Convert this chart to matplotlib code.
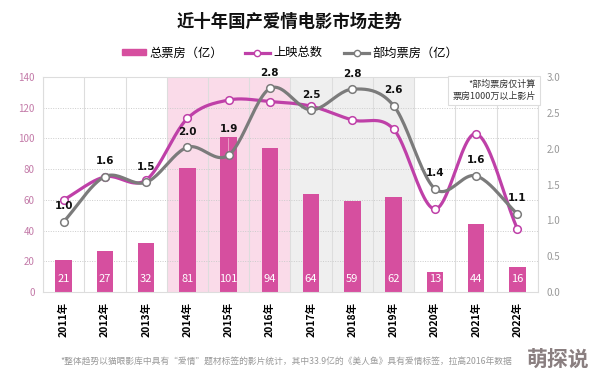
import numpy as np
import matplotlib
matplotlib.use("Agg")
import matplotlib.pyplot as plt
from matplotlib.patches import Patch
from matplotlib.lines import Line2D

plt.rcParams['font.family'] = ['Noto Sans CJK SC', 'DejaVu Sans']

# data
years = ['2011年', '2012年', '2013年', '2014年', '2015年', '2016年',
         '2017年', '2018年', '2019年', '2020年', '2021年', '2022年']
box_office = [21, 27, 32, 81, 101, 94, 64, 59, 62, 13, 44, 16]          # 总票房（亿）
releases = [60, 75, 73, 113, 125, 124, 121, 112, 106, 54, 103, 41]       # 上映总数
avg_box = [0.98, 1.61, 1.53, 2.02, 1.91, 2.84, 2.54, 2.83, 2.60, 1.44, 1.62, 1.09]  # 部均票房（亿）

bar_c = '#d64f9f'
line_c = '#bf40a8'
gray_c = '#7b7b7b'


def smooth(x, y, n=24):
    # catmull-rom curve through the points, only for drawing
    pts = np.column_stack([x, y]).astype(float)
    p = np.vstack([2 * pts[0] - pts[1], pts, 2 * pts[-1] - pts[-2]])
    t = np.linspace(0, 1, n)[:, None]
    segs = []
    for i in range(1, len(p) - 2):
        p0, p1, p2, p3 = p[i - 1], p[i], p[i + 1], p[i + 2]
        seg = 0.5 * (2 * p1 + (-p0 + p2) * t + (2 * p0 - 5 * p1 + 4 * p2 - p3) * t ** 2
                     + (-p0 + 3 * p1 - 3 * p2 + p3) * t ** 3)
        segs.append(seg)
    s = np.vstack(segs)
    return s[:, 0], s[:, 1]


fig = plt.figure(figsize=(5.94, 3.78), dpi=100)
ax = fig.add_axes([0.0724, 0.2275, 0.8333, 0.5688])
x = np.arange(len(years))

# shaded periods
ax.axvspan(2.5, 5.5, color='#fadbe9', zorder=0, lw=0)
ax.axvspan(5.5, 8.5, color='#efefef', zorder=0, lw=0)

# grid
for v in np.arange(-0.5, len(years), 1.0):
    ax.axvline(v, color='#dddddd', lw=0.8, zorder=0.5)
for h in range(20, 141, 20):
    ax.axhline(h, color='#cccccc', lw=0.7, ls=(0, (1, 1.5)), zorder=0.5)

ax.bar(x, box_office, width=0.4, color=bar_c, zorder=2)
for xi, v in zip(x, box_office):
    ax.text(xi, 8.5, str(v), ha='center', va='center', color='white', fontsize=8, zorder=3)

sx, sy = smooth(x, releases)
ax.plot(sx, sy, color=line_c, lw=2.3, zorder=4)
ax.plot(x, releases, 'o', ms=5.5, mfc='white', mec=line_c, mew=1.1, zorder=5)

ax.set_xlim(-0.5, len(years) - 0.5)
ax.set_ylim(0, 140)
ax.set_yticks(range(0, 141, 20))
ax.set_xticks(x)
ax.set_xticklabels(years, rotation=90, fontsize=7.5, fontweight='bold')
ax.tick_params(axis='x', length=0, pad=7)
ax.tick_params(axis='y', length=0, labelsize=7, labelcolor='#c37aa8', pad=6)
for s in ax.spines.values():
    s.set_color('#dddddd')
    s.set_linewidth(0.8)

ax2 = ax.twinx()
ax2.set_ylim(0, 3.0)
ax2.set_yticks(np.arange(0, 3.01, 0.5))
ax2.set_yticklabels([f'{v:.1f}' for v in np.arange(0, 3.01, 0.5)])
ax2.tick_params(axis='y', length=0, labelsize=7, labelcolor='#999999', pad=6)
for s in ax2.spines.values():
    s.set_visible(False)

gx, gy = smooth(x, avg_box)
ax2.plot(gx, gy, color=gray_c, lw=2.3, zorder=4)
ax2.plot(x, avg_box, 'o', ms=5.5, mfc='white', mec=gray_c, mew=1.1, zorder=5)

for xi, v in zip(x, avg_box):
    dy = 7.5
    if xi == 4:
        dy = 15
        ax2.annotate('', xy=(xi, v), xytext=(0, 14), textcoords='offset points',
                     arrowprops=dict(arrowstyle='-', color='#f0b0d0', lw=0.6))
    ax2.annotate(f'{v:.1f}', (xi, v), xytext=(0, dy), textcoords='offset points',
                 ha='center', va='bottom', fontsize=7.5, fontweight='bold', color='#111111',
                 family='DejaVu Sans', zorder=6)

ax2.text(0.995, 0.985, '*部均票房仅计算\n票房1000万以上影片', transform=ax2.transAxes,
         ha='right', va='top', fontsize=6.5, color='#333333', linespacing=1.4,
         bbox=dict(boxstyle='square,pad=0.45', fc='white', ec='#dddddd', lw=0.8), zorder=7)

fig.text(0.488, 0.942, '近十年国产爱情电影市场走势', ha='center', va='center',
         fontsize=12.5, fontweight='bold', color='#111111')

handles = [Patch(color=bar_c),
           Line2D([], [], color=line_c, lw=2.3, marker='o', ms=4.5, mfc='white', mec=line_c),
           Line2D([], [], color=gray_c, lw=2.3, marker='o', ms=4.5, mfc='white', mec=gray_c)]
fig.legend(handles, ['总票房（亿）', '上映总数', '部均票房（亿）'], loc='center',
           bbox_to_anchor=(0.488, 0.86), ncol=3, frameon=False, fontsize=8.8,
           handlelength=2.0, handleheight=0.45, columnspacing=1.8, handletextpad=0.3)

fig.text(0.101, 0.042, '*整体趋势以猫眼影库中具有“爱情”题材标签的影片统计，其中33.9亿的《美人鱼》具有爱情标签，拉高2016年数据',
         ha='left', va='center', fontsize=6.3, color='#999999')
fig.text(0.992, 0.047, '萌探说', ha='right', va='center', fontsize=15, fontweight='bold', color='#8a7f80')

fig.savefig('out.png', dpi=100)
